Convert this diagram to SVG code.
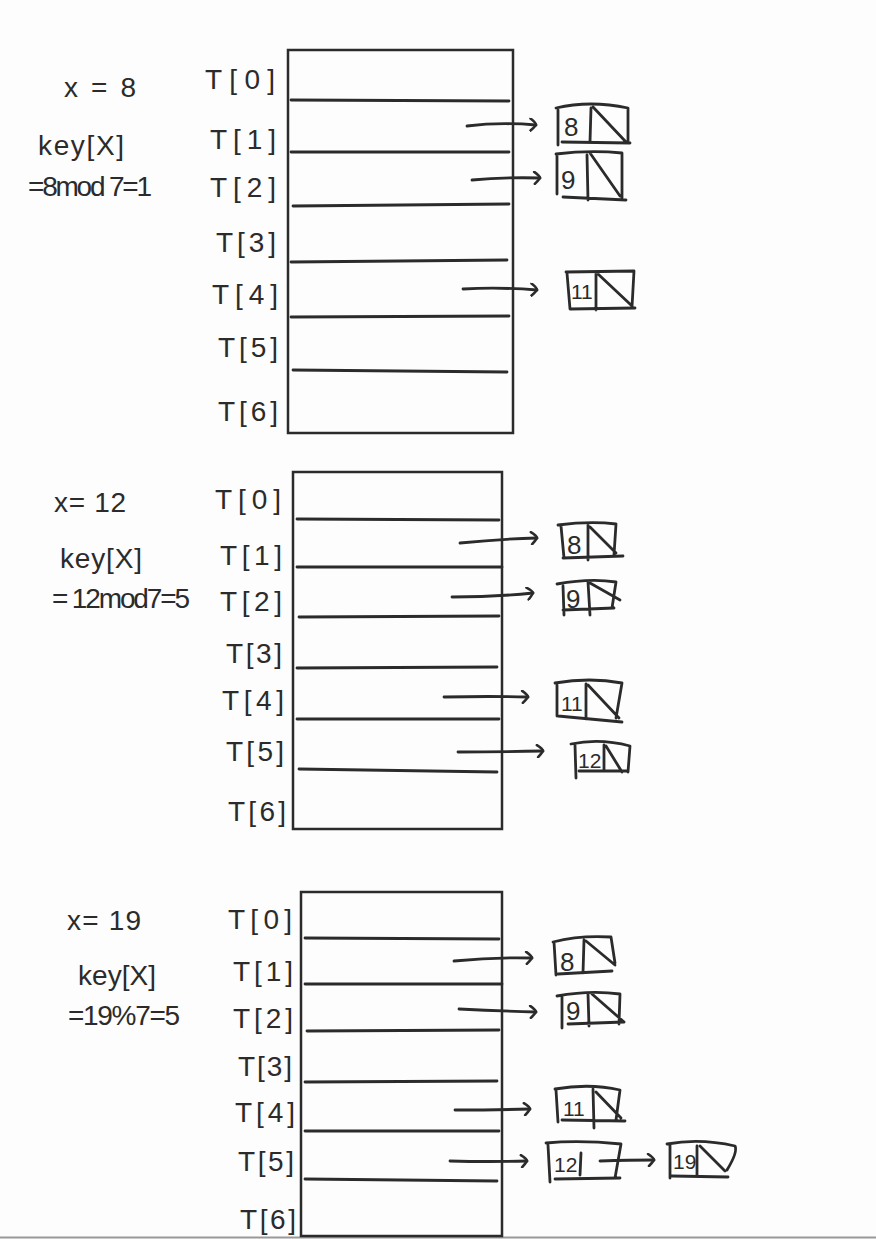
<svg xmlns="http://www.w3.org/2000/svg" width="876" height="1239" viewBox="0 0 876 1239">
<defs>
<style>
.bg{fill:#fdfdfd}
.s{fill:none;stroke:#2b2b2b;stroke-width:2.8;stroke-linecap:round;stroke-linejoin:round}
.tbl{fill:none;stroke:#2b2b2b;stroke-width:2.5}
.t{font-family:"Liberation Sans","DejaVu Sans",sans-serif;fill:#2b2b2b;font-size:28px}
.v{font-family:"Liberation Sans","DejaVu Sans",sans-serif;fill:#2b2b2b;font-size:26px}
.v2{font-family:"Liberation Sans","DejaVu Sans",sans-serif;fill:#2b2b2b;font-size:21px}
.c{fill:none;stroke:#2b2b2b;stroke-width:2.8;stroke-linecap:round;marker-end:url(#ah)}
</style>
<marker id="ah" markerWidth="12" markerHeight="14" refX="9" refY="7" orient="auto" markerUnits="userSpaceOnUse">
<path d="M3,1 Q9,5 9,7 Q7,10 4,13" fill="none" stroke="#2b2b2b" stroke-width="2.6" stroke-linecap="round"/>
</marker>
</defs>
<rect class="bg" x="0" y="0" width="876" height="1239"/>
<line x1="0" y1="1237.5" x2="876" y2="1237.5" stroke="#9a9a9a" stroke-width="2"/>

<!-- Section 1 -->
<g id="label1">
<text class="t" x="64" y="97" textLength="72" font-size="34">x=8</text>
<text class="t" x="38" y="155" textLength="86">key[X]</text>
<text class="t" x="28" y="196" textLength="124">=8mod 7=1</text>
</g>
<g id="table1">
<rect class="tbl" x="288" y="50" width="225" height="383"/>
<path class="s" d="M291,100 L509,101 M291,152 L509,152 M293,206 L509,204 M291,262 L507,260 M291,317 L509,316 M293,370 L507,372"/>
<text class="t" x="205" y="89" textLength="70">T[0]</text>
<text class="t" x="210" y="149" textLength="66">T[1]</text>
<text class="t" x="210" y="197" textLength="66">T[2]</text>
<text class="t" x="216" y="252" textLength="60">T[3]</text>
<text class="t" x="212" y="304" textLength="66">T[4]</text>
<text class="t" x="218" y="357" textLength="60">T[5]</text>
<text class="t" x="218" y="421" textLength="60">T[6]</text>
</g>
<g id="n1_8"><path class="s" d="M556,108 Q590,100 628,108 L628,142 M558,110 L558,145 M562,142 L630,143 M591,108 L590,142 M593,107 L626,142"/><text class="v" x="564" y="136">8</text></g>
<g id="n1_9"><path class="s" d="M556,154 Q590,150 622,153 L622,198 M557,156 L557,194 M563,197 L626,200 M587,155 L588,200 M590,153 L620,196"/><text class="v" x="561" y="189">9</text></g>
<g id="n1_11"><path class="s" d="M566,272 L634,271 L632,307 M567,273 L570,309 L635,308 M596,272 L596,310 M598,274 L631,305"/><text class="v2" x="571" y="299">11</text></g>

<!-- Section 2 -->
<g id="label2">
<text class="t" x="54" y="512" textLength="72">x= 12</text>
<text class="t" x="60" y="568" textLength="82">key[X]</text>
<text class="t" x="52" y="608" textLength="138">= 12mod7=5</text>
</g>
<g id="table2">
<rect class="tbl" x="293" y="472" width="209" height="357"/>
<path class="s" d="M297,519 L499,520 M297,567 L502,567 M299,617 L499,616 M297,668 L497,667 M297,719 L499,719 M299,769 L497,772"/>
<text class="t" x="215" y="509" textLength="66">T[0]</text>
<text class="t" x="220" y="565" textLength="62">T[1]</text>
<text class="t" x="220" y="611" textLength="62">T[2]</text>
<text class="t" x="226" y="663" textLength="56">T[3]</text>
<text class="t" x="222" y="710" textLength="62">T[4]</text>
<text class="t" x="226" y="761" textLength="58">T[5]</text>
<text class="t" x="228" y="821" textLength="58">T[6]</text>
</g>
<g id="n2_8"><path class="s" d="M558,525 Q590,521 616,524 L614,555 M561,526 L564,558 M563,558 L623,556 M588,525 L588,560 M590,527 L616,553"/><text class="v" x="567" y="554">8</text></g>
<g id="n2_9"><path class="s" d="M557,584 Q590,578 616,582 L612,608 M563,586 L564,615 M563,610 L614,608 M588,582 L590,615 M590,583 L620,600"/><text class="v" x="566" y="608">9</text></g>
<g id="n2_11"><path class="s" d="M555,683 Q590,677 622,683 L616,718 M557,685 L557,716 M558,716 L622,722 M586,684 L586,719 M588,685 L619,718"/><text class="v2" x="561" y="711">11</text></g>
<g id="n2_12"><path class="s" d="M571,744 Q600,738 630,746 L628,772 M575,745 L576,778 M579,771 L628,771 M604,745 L604,771 M606,746 L622,772"/><text class="v2" x="578" y="768">12</text></g>

<!-- Section 3 -->
<g id="label3">
<text class="t" x="67" y="930" textLength="74">x= 19</text>
<text class="t" x="78" y="985" textLength="78">key[X]</text>
<text class="t" x="68" y="1025" textLength="112">=19%7=5</text>
</g>
<g id="table3">
<rect class="tbl" x="301" y="892" width="201" height="344"/>
<path class="s" d="M305,938 L499,939 M305,984 L502,984 M307,1031 L499,1030 M305,1082 L497,1081 M305,1131 L499,1131 M305,1179 L497,1181"/>
<text class="t" x="228" y="929" textLength="64">T[0]</text>
<text class="t" x="233" y="981" textLength="60">T[1]</text>
<text class="t" x="233" y="1028" textLength="60">T[2]</text>
<text class="t" x="238" y="1076" textLength="54">T[3]</text>
<text class="t" x="235" y="1122" textLength="60">T[4]</text>
<text class="t" x="238" y="1171" textLength="56">T[5]</text>
<text class="t" x="240" y="1229" textLength="56">T[6]</text>
</g>
<g id="n3_8"><path class="s" d="M553,942 Q580,935 611,937 L615,963 M554,942 L556,975 M558,974 L612,971 M584,940 L583,973 M586,941 L615,965"/><text class="v" x="560" y="971">8</text></g>
<g id="n3_9"><path class="s" d="M557,996 Q590,990 620,994 L619,1024 M562,997 L562,1028 M568,1024 L624,1022 M588,994 L589,1026 M592,994 L624,1022"/><text class="v" x="566" y="1020">9</text></g>
<g id="n3_11"><path class="s" d="M555,1089 Q590,1083 620,1090 L616,1120 M556,1090 L558,1122 M562,1120 L625,1121 M593,1089 L594,1128 M596,1092 L621,1118"/><text class="v2" x="563" y="1116">11</text></g>
<g id="n3_12"><path class="s" d="M546,1143 Q580,1140 621,1144 L615,1178 M548,1145 L550,1182 M555,1179 L620,1178 M581,1153 L580,1175"/><text class="v2" x="554" y="1172">12</text></g>
<g id="n3_19"><path class="s" d="M667,1144 Q700,1138 735,1146 Q738,1152 727,1170 M670,1145 L670,1178 M672,1176 L728,1177 M697,1146 L697,1176 M700,1146 L725,1171"/><text class="v2" x="673" y="1169" font-size="19">19</text></g>

<g id="connectors">
<path class="c" d="M467,126 Q500,122 536,125"/>
<path class="c" d="M472,180 Q505,177 540,178"/>
<path class="c" d="M463,289 Q500,287 537,290"/>
<path class="c" d="M460,543 Q500,539 537,538"/>
<path class="c" d="M452,597 Q495,597 533,593"/>
<path class="c" d="M444,697 Q490,696 528,697"/>
<path class="c" d="M458,752 Q500,752 543,751"/>
<path class="c" d="M454,961 Q495,957 532,958"/>
<path class="c" d="M459,1009 Q500,1011 536,1012"/>
<path class="c" d="M455,1110 Q495,1110 530,1109"/>
<path class="c" d="M450,1161 Q490,1162 527,1161"/>
<path class="c" d="M600,1161 Q630,1160 654,1160"/>
</g>
</svg>
